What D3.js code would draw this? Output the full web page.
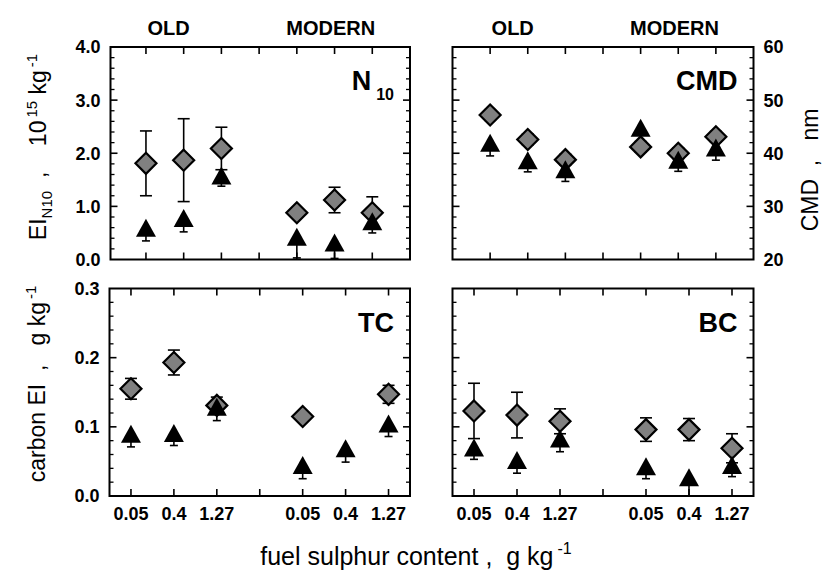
<!DOCTYPE html>
<html>
<head>
<meta charset="utf-8">
<script src="https://cdn.jsdelivr.net/npm/d3@7"></script>
<style>
  body { margin: 0; background: #fff; }
  svg { font-family: "Liberation Sans", Arial, sans-serif; }
  text { white-space: pre; }
</style>
</head>
<body>
<div id="chart"></div>
<script>
// x positions of the six fuel samples (gap at 4 between OLD and MODERN)
const positions = [1, 2, 3, 5, 6, 7];
const sulphurLabels = ["0.05", "0.4", "1.27", "0.05", "0.4", "1.27"];
const groupLabels = ["OLD", "MODERN"];

// N10 emission index, 10^15 kg-1
const n10Diamond = [1.81, 1.87, 2.09, 0.88, 1.12, 0.88];
const n10DiamondErr = [0.61, 0.78, 0.40, 0.08, 0.24, 0.30];
const n10Triangle = [0.60, 0.78, 1.58, 0.43, 0.32, 0.72];
const n10TriangleErr = [0.25, 0.26, 0.20, 0.40, 0.30, 0.22];

// count median diameter, nm
const cmdDiamond = [47.2, 42.6, 38.8, 41.2, 40.0, 43.1];
const cmdDiamondErr = [1.0, 1.0, 1.0, 1.0, 1.0, 1.0];
const cmdTriangle = [42.0, 38.7, 37.0, 44.8, 38.8, 41.1];
const cmdTriangleErr = [2.5, 2.2, 2.3, 1.0, 2.2, 2.4];

// total carbon EI, g kg-1
const tcDiamond = [0.155, 0.193, 0.131, 0.115, null, 0.147];
const tcDiamondErr = [0.015, 0.018, 0.012, 0.005, null, 0.013];
const tcTriangle = [0.090, 0.091, 0.129, 0.045, 0.069, 0.105];
const tcTriangleErr = [0.019, 0.018, 0.020, 0.020, 0.020, 0.019];

// black carbon EI, g kg-1
const bcDiamond = [0.123, 0.117, 0.108, 0.096, 0.096, 0.069];
const bcDiamondErr = [0.040, 0.033, 0.018, 0.017, 0.016, 0.021];
const bcTriangle = [0.070, 0.052, 0.083, 0.043, 0.027, 0.045];
const bcTriangleErr = [0.017, 0.019, 0.019, 0.018, 0.027, 0.017];

const W = 824, H = 574;
const svg = d3.select("#chart").append("svg")
    .attr("width", W)
    .attr("height", H);

const panels = [
    { name: "n10", box: [110.5, 410, 47, 259.5], xDom: [0.06, 8], yDom: [0, 4], major: 1, minor: 0.2,
      labelSide: "left", fmt: d3.format(".1f"), tag: "N", tagSub: "10",
      dia: n10Diamond, diaErr: n10DiamondErr, tri: n10Triangle, triErr: n10TriangleErr },
    { name: "cmd", box: [452.5, 753.5, 47, 259.5], xDom: [0, 8], yDom: [20, 60], major: 10, minor: 2,
      labelSide: "right", fmt: d3.format("d"), tag: "CMD",
      dia: cmdDiamond, diaErr: cmdDiamondErr, tri: cmdTriangle, triErr: cmdTriangleErr },
    { name: "tc", box: [109.5, 410, 288.5, 496], xDom: [0.5, 7.5], yDom: [0, 0.3], major: 0.1, minor: 0.02,
      labelSide: "left", fmt: d3.format(".1f"), tag: "TC", xLabels: true,
      dia: tcDiamond, diaErr: tcDiamondErr, tri: tcTriangle, triErr: tcTriangleErr },
    { name: "bc", box: [452.5, 753.5, 288.5, 496], xDom: [0.5, 7.5], yDom: [0, 0.3], major: 0.1, minor: 0.02,
      labelSide: null, tag: "BC", xLabels: true,
      dia: bcDiamond, diaErr: bcDiamondErr, tri: bcTriangle, triErr: bcTriangleErr }
];

const diamondPath = r => `M0,${-r}L${r},0L0,${r}L${-r},0Z`;
const trianglePath = (w, h) => `M0,${-h / 2}L${w / 2},${h / 2}L${-w / 2},${h / 2}Z`;

function range(a, b, step) {
    const out = [];
    const n = Math.round((b - a) / step);
    for (let i = 0; i <= n; i++) out.push(+(a + i * step).toFixed(6));
    return out;
}

panels.forEach(p => {
    const [x0, x1, y0, y1] = p.box;
    const x = d3.scaleLinear().domain(p.xDom).range([x0, x1]);
    const y = d3.scaleLinear().domain(p.yDom).range([y1, y0]);
    const g = svg.append("g").attr("class", p.name);

    const majors = range(p.yDom[0], p.yDom[1], p.major);
    const minors = range(p.yDom[0], p.yDom[1], p.minor).filter(v => !majors.some(m => Math.abs(m - v) < 1e-6));

    // y ticks, inward on both sides
    [[x0, 1], [x1, -1]].forEach(([xe, dir]) => {
        g.selectAll(null).data(majors.slice(1, -1)).join("line")
            .attr("x1", xe).attr("x2", xe + dir * 7)
            .attr("y1", d => y(d)).attr("y2", d => y(d))
            .attr("stroke", "#000").attr("stroke-width", 1.6);
        g.selectAll(null).data(minors).join("line")
            .attr("x1", xe).attr("x2", xe + dir * 4)
            .attr("y1", d => y(d)).attr("y2", d => y(d))
            .attr("stroke", "#000").attr("stroke-width", 1.3);
    });

    // x ticks top and bottom (including the empty slot at 4)
    const xt = [1, 2, 3, 4, 5, 6, 7];
    [[y0, 1], [y1, -1]].forEach(([ye, dir]) => {
        g.selectAll(null).data(xt).join("line")
            .attr("x1", d => x(d)).attr("x2", d => x(d))
            .attr("y1", ye).attr("y2", ye + dir * 7)
            .attr("stroke", "#000").attr("stroke-width", 1.6);
    });

    g.append("rect")
        .attr("x", x0).attr("y", y0)
        .attr("width", x1 - x0).attr("height", y1 - y0)
        .attr("fill", "none").attr("stroke", "#000").attr("stroke-width", 2);

    // y tick labels
    if (p.labelSide) {
        const left = p.labelSide === "left";
        g.selectAll(null).data(majors).join("text")
            .attr("x", left ? x0 - 10 : x1 + 10)
            .attr("y", d => y(d))
            .attr("dy", "0.36em")
            .attr("text-anchor", left ? "end" : "start")
            .attr("font-size", 18).attr("font-weight", "bold")
            .text(p.fmt);
    }

    // x tick labels
    if (p.xLabels) {
        g.selectAll(null).data(positions).join("text")
            .attr("x", d => x(d))
            .attr("y", y1 + 24)
            .attr("text-anchor", "middle")
            .attr("font-size", 18).attr("font-weight", "bold")
            .text((d, i) => sulphurLabels[i]);
    }

    // panel tag
    const tag = g.append("text")
        .attr("x", x1 - 16).attr("y", y0 + 43)
        .attr("text-anchor", "end")
        .attr("font-size", 27).attr("font-weight", "bold");
    tag.append("tspan").text(p.tag);
    if (p.tagSub) {
        tag.append("tspan").attr("dx", 5).attr("dy", 10).attr("font-size", 16).text(p.tagSub);
    }

    // error bars: sides = [-1, 1] for both, [-1, 0] for lower only
    const errBar = (vals, errs, sides, capW, cls) => {
        const pts = positions.map((pos, i) => ({ pos, v: vals[i], e: errs[i] }))
            .filter(d => d.v != null && d.e != null);
        const eg = g.append("g").attr("class", cls)
            .attr("stroke", "#000").attr("stroke-width", 1.6);
        eg.selectAll(null).data(pts).join("line")
            .attr("x1", d => x(d.pos)).attr("x2", d => x(d.pos))
            .attr("y1", d => y(d.v + Math.min(...sides) * d.e))
            .attr("y2", d => y(d.v + Math.max(...sides) * d.e));
        sides.filter(s => s !== 0).forEach(s => {
            eg.selectAll(null).data(pts).join("line")
                .attr("x1", d => x(d.pos) - capW).attr("x2", d => x(d.pos) + capW)
                .attr("y1", d => y(d.v + s * d.e)).attr("y2", d => y(d.v + s * d.e));
        });
    };

    // gray diamonds
    errBar(p.dia, p.diaErr, [-1, 1], 6, "dia-err");
    g.append("g").selectAll("path")
        .data(positions.map((pos, i) => ({ pos, v: p.dia[i] })).filter(d => d.v != null))
        .join("path")
        .attr("transform", d => `translate(${x(d.pos)},${y(d.v)})`)
        .attr("d", diamondPath(10.5))
        .attr("fill", "#808080").attr("stroke", "#000").attr("stroke-width", 2.2);

    // black triangles
    errBar(p.tri, p.triErr, [-1, 0], 4, "tri-err");
    g.append("g").selectAll("path")
        .data(positions.map((pos, i) => ({ pos, v: p.tri[i] })).filter(d => d.v != null))
        .join("path")
        .attr("transform", d => `translate(${x(d.pos)},${y(d.v)})`)
        .attr("d", trianglePath(20, 18))
        .attr("fill", "#000");

    // OLD / MODERN headings above the top row
    if (y0 < 100) {
        g.selectAll(null).data(groupLabels).join("text")
            .attr("x", (d, i) => x(i === 0 ? 1.6 : 5.9))
            .attr("y", 35)
            .attr("text-anchor", "middle")
            .attr("font-size", 20).attr("font-weight", "bold")
            .text(d => d);
    }
});

// axis titles
const t1 = svg.append("text")
    .attr("transform", "translate(46,147) rotate(-90)")
    .attr("text-anchor", "middle")
    .attr("font-size", 23);
t1.append("tspan").text("EI");
t1.append("tspan").attr("dy", 6).attr("font-size", 15).text("N10");
t1.append("tspan").attr("dy", -6).text("  ,    10");
t1.append("tspan").attr("dy", -9).attr("dx", 3).attr("font-size", 15).text("15");
t1.append("tspan").attr("dy", 9).text(" kg");
t1.append("tspan").attr("dy", -9).attr("dx", 3).attr("font-size", 15).text("-1");

const t2 = svg.append("text")
    .attr("transform", "translate(45,384) rotate(-90)")
    .attr("text-anchor", "middle")
    .attr("font-size", 23);
t2.append("tspan").text("carbon EI  ,   g kg");
t2.append("tspan").attr("dy", -9).attr("dx", 3).attr("font-size", 15).text("-1");

svg.append("text")
    .attr("transform", "translate(818,170) rotate(-90)")
    .attr("text-anchor", "middle")
    .attr("font-size", 23)
    .text("CMD  ,   nm");

const t3 = svg.append("text")
    .attr("x", 416).attr("y", 565)
    .attr("text-anchor", "middle")
    .attr("font-size", 25);
t3.append("tspan").text("fuel sulphur content ,  g kg");
t3.append("tspan").attr("dy", -11).attr("dx", 4).attr("font-size", 16).text("-1");
</script>
</body>
</html>
